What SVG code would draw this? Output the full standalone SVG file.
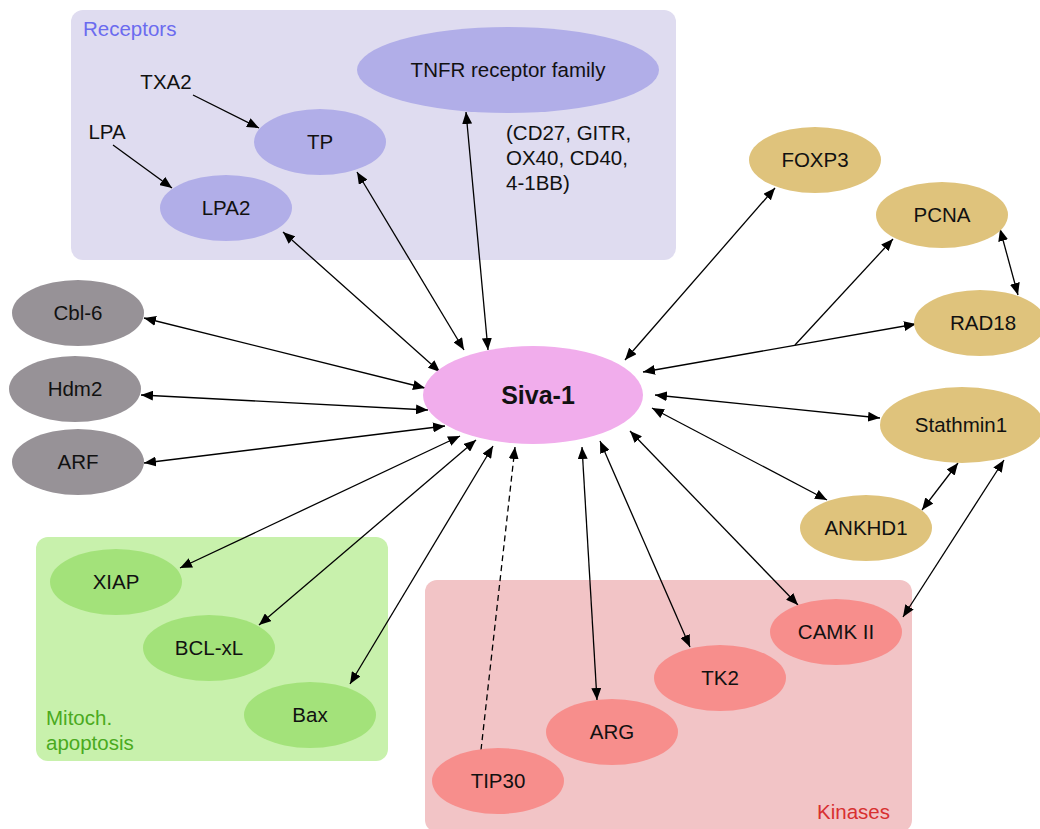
<svg xmlns="http://www.w3.org/2000/svg" width="1040" height="829" viewBox="0 0 1040 829">
<style>
text{font-family:"Liberation Sans",Arial,sans-serif;font-size:20.5px;fill:#111}
.c{text-anchor:middle}
.rec{fill:#b1aee8}
.gry{fill:#979297}
.gld{fill:#dfc37c}
.grn{fill:#a3e27a}
.red{fill:#f78e8c}
.e{stroke:#000;stroke-width:1.3;fill:none;marker-start:url(#ah);marker-end:url(#ah)}
.s{stroke:#000;stroke-width:1.3;fill:none;marker-end:url(#ah)}
</style>
<defs>
<marker id="ah" viewBox="0 0 12 10" refX="12" refY="5" markerWidth="12" markerHeight="10" markerUnits="userSpaceOnUse" orient="auto-start-reverse">
<path d="M0,0L12,5L0,10z" fill="#000"/>
</marker>
</defs>
<rect width="1040" height="829" fill="#fff"/>
<g id="group-receptors">
<rect x="71" y="10" width="605" height="250" rx="12" fill="#dfdcf0"/>
<text x="83" y="36" style="fill:#6b6bef">Receptors</text>
</g>
<g id="group-mitoch">
<rect x="36" y="537" width="352" height="224" rx="12" fill="#c8f1ac"/>
<text x="46" y="725" style="fill:#4aaa1e">Mitoch.</text>
<text x="46" y="750" style="fill:#4aaa1e">apoptosis</text>
</g>
<g id="group-kinases">
<rect x="425" y="580" width="487" height="252" rx="12" fill="#f2c4c6"/>
<text x="890" y="819" style="fill:#d83030;text-anchor:end">Kinases</text>
</g>
<g id="connectors">
<path class="s" d="M193,95L259,128"/>
<path class="s" d="M113,145L172,188"/>
<path class="e" d="M283,232L440,372"/>
<path class="e" d="M357,172L464,350"/>
<path class="e" d="M466,112L488,350"/>
<path class="e" d="M144,318L425,388"/>
<path class="e" d="M141,395L428,410"/>
<path class="e" d="M144,463L445,426"/>
<path class="e" d="M180,568L460,436"/>
<path class="e" d="M259,625L476,440"/>
<path class="e" d="M350,684L493,446"/>
<path class="s" d="M481,750L515,447" stroke-dasharray="6,4"/>
<path class="e" d="M597,700L582,447"/>
<path class="e" d="M690,647L600,441"/>
<path class="e" d="M798,605L630,431"/>
<path class="e" d="M827,500L652,408"/>
<path class="e" d="M880,418L655,395"/>
<path class="e" d="M916,324L643,372"/>
<path class="s" d="M795,345L893,239"/>
<path class="e" d="M775,188L625,360"/>
<path class="e" d="M1000,229L1018,295"/>
<path class="e" d="M958,463L922,510"/>
<path class="e" d="M903,617L1004,460"/>
</g>
<g id="node-txa2"><text class="c" x="166" y="89">TXA2</text></g>
<g id="node-lpa"><text class="c" x="107" y="139">LPA</text></g>
<g id="node-tnfr"><ellipse class="rec" cx="508" cy="70" rx="151" ry="43"/><text class="c" x="508" y="77">TNFR receptor family</text></g>
<g id="note-tnfr"><text x="506" y="140">(CD27, GITR,</text><text x="506" y="165">OX40, CD40,</text><text x="506" y="190">4-1BB)</text></g>
<g id="node-tp"><ellipse class="rec" cx="320" cy="142" rx="66" ry="33"/><text class="c" x="320" y="149">TP</text></g>
<g id="node-lpa2"><ellipse class="rec" cx="226" cy="208" rx="66" ry="33"/><text class="c" x="226" y="215">LPA2</text></g>
<g id="node-cbl6"><ellipse class="gry" cx="78" cy="313" rx="66" ry="33"/><text class="c" x="78" y="320">Cbl-6</text></g>
<g id="node-hdm2"><ellipse class="gry" cx="75" cy="389" rx="66" ry="33"/><text class="c" x="75" y="396">Hdm2</text></g>
<g id="node-arf"><ellipse class="gry" cx="78" cy="462" rx="66" ry="33"/><text class="c" x="78" y="469">ARF</text></g>
<g id="node-siva1"><ellipse cx="533" cy="395" rx="110" ry="49" fill="#f1adec"/><text class="c" x="538" y="404" style="font-weight:bold;font-size:25px">Siva-1</text></g>
<g id="node-foxp3"><ellipse class="gld" cx="815" cy="160" rx="66" ry="33"/><text class="c" x="815" y="167">FOXP3</text></g>
<g id="node-pcna"><ellipse class="gld" cx="942" cy="215" rx="66" ry="33"/><text class="c" x="942" y="222">PCNA</text></g>
<g id="node-rad18"><ellipse class="gld" cx="980" cy="323" rx="66" ry="33"/><text class="c" x="983" y="330">RAD18</text></g>
<g id="node-stathmin1"><ellipse class="gld" cx="962" cy="425" rx="82" ry="38"/><text class="c" x="961" y="432">Stathmin1</text></g>
<g id="node-ankhd1"><ellipse class="gld" cx="866" cy="528" rx="66" ry="33"/><text class="c" x="866" y="535">ANKHD1</text></g>
<g id="node-xiap"><ellipse class="grn" cx="116" cy="582" rx="66" ry="33"/><text class="c" x="116" y="589">XIAP</text></g>
<g id="node-bclxl"><ellipse class="grn" cx="209" cy="648" rx="66" ry="33"/><text class="c" x="209" y="655">BCL-xL</text></g>
<g id="node-bax"><ellipse class="grn" cx="310" cy="715" rx="66" ry="33"/><text class="c" x="310" y="722">Bax</text></g>
<g id="node-tip30"><ellipse class="red" cx="498" cy="781" rx="66" ry="33"/><text class="c" x="498" y="788">TIP30</text></g>
<g id="node-arg"><ellipse class="red" cx="612" cy="732" rx="66" ry="33"/><text class="c" x="612" y="739">ARG</text></g>
<g id="node-tk2"><ellipse class="red" cx="720" cy="678" rx="66" ry="33"/><text class="c" x="720" y="685">TK2</text></g>
<g id="node-camkii"><ellipse class="red" cx="836" cy="632" rx="66" ry="33"/><text class="c" x="836" y="639">CAMK II</text></g>
</svg>
